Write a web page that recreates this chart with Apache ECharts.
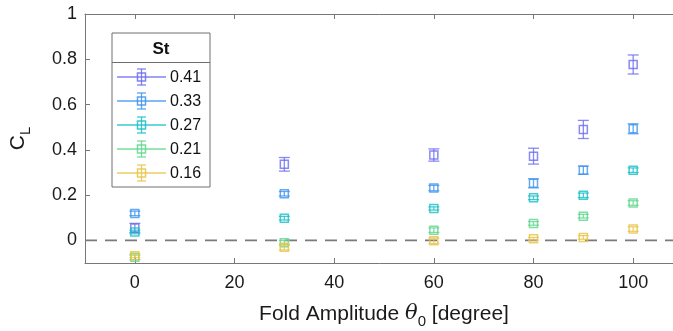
<!DOCTYPE html>
<html>
<head>
<meta charset="utf-8">
<script src="https://cdn.jsdelivr.net/npm/echarts@6/dist/echarts.min.js"></script>
<style>html,body{margin:0;padding:0;background:#fff}#c{width:673px;height:331px}</style>
</head>
<body>
<div id="c"></div>
<script>
// ---- data ----
const thetas = [0, 30, 60, 80, 90, 100];
const stNames = ['0.41', '0.33', '0.27', '0.21', '0.16'];
const cl041 = [0.055, 0.336, 0.377, 0.372, 0.490, 0.777];
const err041 = [0.020, 0.030, 0.027, 0.035, 0.040, 0.042];
const cl033 = [0.119, 0.206, 0.231, 0.252, 0.310, 0.493];
const err033 = [0.010, 0.010, 0.012, 0.020, 0.018, 0.022];
const cl027 = [0.037, 0.098, 0.141, 0.188, 0.199, 0.310];
const err027 = [0.008, 0.008, 0.007, 0.008, 0.010, 0.010];
const cl021 = [-0.075, -0.010, 0.045, 0.075, 0.107, 0.165];
const err021 = [0.010, 0.010, 0.010, 0.008, 0.008, 0.010];
const cl016 = [-0.068, -0.030, -0.002, 0.007, 0.013, 0.050];
const err016 = [0.008, 0.012, 0.012, 0.006, 0.008, 0.010];
const xTicks = [0, 20, 40, 60, 80, 100];
const yTicks = [0, 0.2, 0.4, 0.6, 0.8, 1];

const colors = ['#6b6bf2', '#3d93ee', '#17bfc6', '#5fd68c', '#e8c345'];
const allCl = [cl041, cl033, cl027, cl021, cl016];
const allErr = [err041, err033, err027, err021, err016];

const chart = echarts.init(document.getElementById('c'), null, {renderer: 'canvas'});
const axisCol = '#777777';
const font = 'Liberation Sans, Helvetica, Arial, sans-serif';

function makeRender(color) {
  return function (params, api) {
    const x = api.value(0), y = api.value(1), e = api.value(2);
    const c = api.coord([x, y]);
    const t = api.coord([x, y + e]);
    const b = api.coord([x, y - e]);
    const cap = 5.5, h = 4;
    const st = {stroke: color, lineWidth: 1.3, fill: null, opacity: 0.8};
    return {
      type: 'group',
      children: [
        {type: 'line', shape: {x1: c[0], y1: t[1], x2: c[0], y2: b[1]}, style: st},
        {type: 'line', shape: {x1: c[0] - cap, y1: t[1], x2: c[0] + cap, y2: t[1]}, style: st},
        {type: 'line', shape: {x1: c[0] - cap, y1: b[1], x2: c[0] + cap, y2: b[1]}, style: st},
        {type: 'rect', shape: {x: c[0] - h, y: c[1] - h, width: 2 * h, height: 2 * h},
          style: {stroke: color, lineWidth: 1.5, fill: null, opacity: 0.8}}
      ]
    };
  };
}

const series = stNames.map((n, i) => ({
  name: n,
  type: 'custom',
  renderItem: makeRender(colors[i]),
  data: thetas.map((t, k) => [t, allCl[i][k], allErr[i][k]]),
  encode: {x: 0, y: 1},
  z: 5
}));
series.unshift({
  type: 'line',
  data: [[-10, 0], [110, 0]],
  symbol: 'none',
  lineStyle: {color: '#7a7a7a', width: 1.6, type: [12, 8]},
  silent: true,
  z: 2
});

// custom legend built from names/colors
const lgX = 112, lgY = 33, lgW = 98, lgH = 154;
const legendEls = [
  {type: 'rect', shape: {x: lgX, y: lgY, width: lgW, height: lgH},
    style: {fill: '#fff', stroke: '#6e6e6e', lineWidth: 1}, z: 100},
  {type: 'line', shape: {x1: lgX, y1: 62.5, x2: lgX + lgW, y2: 62.5},
    style: {stroke: '#6e6e6e', lineWidth: 1}, z: 101},
  {type: 'text', x: 161, y: 49, style: {text: 'St', font: 'bold 17px ' + font, fill: '#111',
    align: 'center', verticalAlign: 'middle'}, z: 101}
];
stNames.forEach((n, i) => {
  const yy = 77 + i * 24;
  const col = colors[i];
  const st = {stroke: col, lineWidth: 1.3, opacity: 0.85};
  legendEls.push(
    {type: 'line', shape: {x1: 117, y1: yy, x2: 166, y2: yy}, style: st, z: 101},
    {type: 'line', shape: {x1: 141.5, y1: yy - 8, x2: 141.5, y2: yy + 8}, style: st, z: 101},
    {type: 'line', shape: {x1: 137, y1: yy - 8, x2: 146, y2: yy - 8}, style: st, z: 101},
    {type: 'line', shape: {x1: 137, y1: yy + 8, x2: 146, y2: yy + 8}, style: st, z: 101},
    {type: 'rect', shape: {x: 137.5, y: yy - 4, width: 8, height: 8},
      style: {stroke: col, lineWidth: 1.5, fill: null, opacity: 0.85}, z: 101},
    {type: 'text', x: 170, y: yy + 1, style: {text: n, font: '16px ' + font, fill: '#111',
      verticalAlign: 'middle'}, z: 101}
  );
});

const baseX = {
  type: 'value', min: -10, max: 110,
  axisLine: {show: true, onZero: false, lineStyle: {color: axisCol, width: 1}},
  axisTick: {show: true, inside: true, length: 5, customValues: xTicks, lineStyle: {color: axisCol}},
  splitLine: {show: false}
};
const baseY = {
  type: 'value', min: -0.1, max: 1,
  axisLine: {show: true, onZero: false, lineStyle: {color: axisCol, width: 1}},
  axisTick: {show: true, inside: true, length: 5, customValues: yTicks, lineStyle: {color: axisCol}},
  splitLine: {show: false}
};

chart.setOption({
  animation: false,
  grid: {left: 85, right: -10, top: 14, bottom: 68, containLabel: false, outerBoundsMode: 'none'},
  xAxis: [
    Object.assign({}, baseX, {
      position: 'bottom',
      axisLabel: {customValues: xTicks, color: '#1a1a1a', fontSize: 18, fontFamily: font, margin: 11},
      name: 'Fold Amplitude {i|θ}{s|0} [degree]',
      nameLocation: 'middle', nameGap: 36,
      nameTextStyle: {color: '#1a1a1a', fontSize: 21, fontFamily: font,
        rich: {
          i: {fontSize: 21, fontStyle: 'italic', fontFamily: 'DejaVu Serif, serif', color: '#1a1a1a'},
          s: {fontSize: 15, fontFamily: font, color: '#1a1a1a', padding: [15, 0, 0, 0]}
        }}
    }),
    Object.assign({}, baseX, {position: 'top', axisLabel: {show: false}})
  ],
  yAxis: [
    Object.assign({}, baseY, {
      position: 'left',
      axisLabel: {customValues: yTicks, color: '#1a1a1a', fontSize: 18, fontFamily: font, margin: 8},
      name: '{c|C}{s|L}',
      nameLocation: 'middle', nameGap: 52, nameRotate: 90,
      nameTextStyle: {rich: {
        c: {fontSize: 21, fontFamily: font, color: '#1a1a1a'},
        s: {fontSize: 15, fontFamily: font, color: '#1a1a1a', padding: [15, 0, 0, 0]}
      }}
    }),
    Object.assign({}, baseY, {position: 'right', axisLabel: {show: false}})
  ],
  series: series,
  graphic: legendEls
});
</script>
</body>
</html>
